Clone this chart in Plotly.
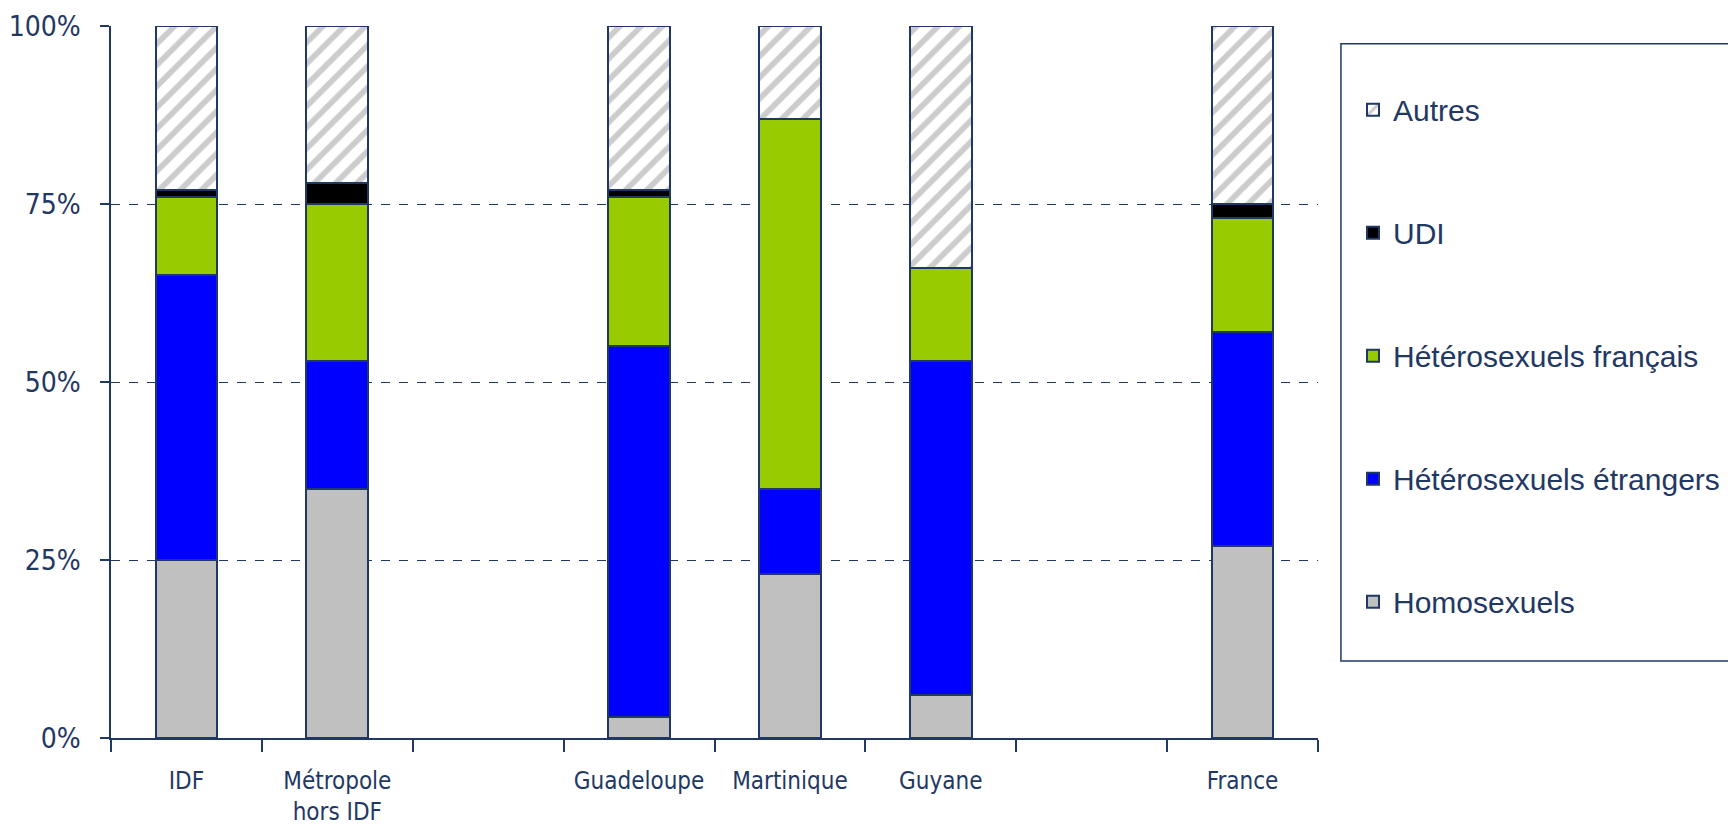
import plotly.graph_objects as go

# catégories (deux emplacements vides comme dans l'original)
regions = ["IDF", "Métropole<br>hors IDF", " ", "Guadeloupe", "Martinique", "Guyane", "  ", "France"]

homosexuels = [25, 35, None, 3, 23, 6, None, 27]
hetero_etrangers = [40, 18, None, 52, 12, 47, None, 30]
hetero_francais = [11, 22, None, 21, 52, 13, None, 16]
udi = [1, 3, None, 1, 0, 0, None, 2]
autres = [23, 22, None, 23, 13, 34, None, 25]

y_ticks = [0, 25, 50, 75, 100]
y_labels = ["0%", "25%", "50%", "75%", "100%"]

NAVY = "#1F3864"
NARROW = "Liberation Sans Narrow, Arial Narrow, DejaVu Sans Condensed, sans-serif"

series = [
    ("Homosexuels", homosexuels, "#C0C0C0", None),
    ("Hétérosexuels étrangers", hetero_etrangers, "#0000FF", None),
    ("Hétérosexuels français", hetero_francais, "#99CC00", None),
    ("UDI", udi, "#000000", None),
    ("Autres", autres, "#FFFFFF", "/"),
]

fig = go.Figure()
for i, (name, vals, color, pat) in enumerate(series):
    marker = dict(color=color, line=dict(color=NAVY, width=2))
    if pat:
        marker["pattern"] = dict(shape=pat, fgcolor="#999999", bgcolor="#FFFFFF", size=15, solidity=0.38)
    fig.add_trace(go.Bar(x=regions, y=vals, name=name, marker=marker,
                         legendgroup=name, legendrank=100 - i))

# cadre de la légende
fig.add_shape(type="rect", xref="paper", yref="paper", x0=1.019, x1=1.6, y0=0.108, y1=0.975,
              line=dict(color=NAVY, width=1.5), fillcolor="rgba(0,0,0,0)")

fig.update_layout(
    barmode="stack",
    bargap=0.59,
    width=1720,
    height=819,
    margin=dict(l=103, r=410, t=18, b=89, autoexpand=False),
    plot_bgcolor="white",
    paper_bgcolor="white",
    font=dict(family=NARROW, size=26, color=NAVY),
    showlegend=True,
    legend=dict(
        traceorder="grouped",
        x=1.029,
        xanchor="left",
        y=0.919,
        yanchor="top",
        tracegroupgap=81,
        font=dict(family="Liberation Sans, Arial, sans-serif", size=30, color=NAVY),
        bgcolor="rgba(0,0,0,0)",
    ),
    xaxis=dict(
        type="category",
        categoryorder="array",
        categoryarray=regions,
        tickson="boundaries",
        ticks="outside",
        ticklen=12,
        tickwidth=1.5,
        tickcolor=NAVY,
        showline=True,
        linecolor=NAVY,
        linewidth=2,
        showgrid=False,
        tickangle=0,
        automargin=False,
        ticklabelstandoff=20,
        tickfont=dict(family=NARROW, size=24, color=NAVY),
    ),
    yaxis=dict(
        range=[0, 100],
        tickvals=y_ticks,
        ticktext=y_labels,
        ticks="outside",
        ticklen=9,
        tickwidth=1.5,
        tickcolor=NAVY,
        showline=True,
        linecolor=NAVY,
        linewidth=1.5,
        showgrid=True,
        gridcolor=NAVY,
        griddash="dash",
        gridwidth=1,
        zeroline=False,
        automargin=False,
        ticklabelstandoff=14,
        tickfont=dict(family=NARROW, size=28, color=NAVY),
    ),
)

fig.write_html("out.html")
